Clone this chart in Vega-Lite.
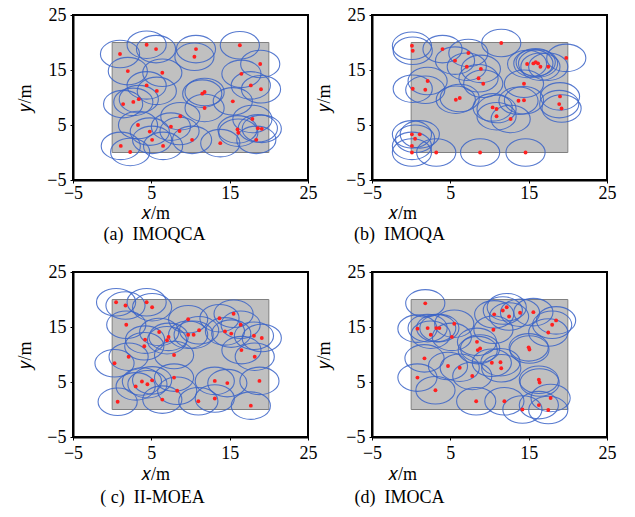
{
"$schema": "https://vega.github.io/schema/vega-lite/v6.json",
"padding": {"left": 15, "top": 5, "right": 0, "bottom": 0},
"background": "white",
"datasets": {
"area": [{"x": 0, "y": 0, "x2": 20, "y2": 20}],
"a": [{"x":1.0,"y":17.9},{"x":4.4,"y":19.6},{"x":5.6,"y":18.8},{"x":10.7,"y":18.8},{"x":10.5,"y":17.4},{"x":16.3,"y":19.5},{"x":18.9,"y":16.1},{"x":2.0,"y":14.8},{"x":6.4,"y":14.5},{"x":16.5,"y":14.3},{"x":4.4,"y":12.2},{"x":5.7,"y":11.2},{"x":17.7,"y":12.2},{"x":19.0,"y":11.5},{"x":11.5,"y":10.7},{"x":11.8,"y":11.0},{"x":2.7,"y":9.2},{"x":3.4,"y":9.7},{"x":1.4,"y":8.8},{"x":15.4,"y":9.3},{"x":11.8,"y":8.1},{"x":8.7,"y":6.6},{"x":3.3,"y":5.0},{"x":7.5,"y":4.7},{"x":4.8,"y":3.8},{"x":8.6,"y":3.9},{"x":17.9,"y":6.1},{"x":16.0,"y":4.2},{"x":16.1,"y":3.6},{"x":18.6,"y":4.4},{"x":19.1,"y":4.3},{"x":18.4,"y":2.3},{"x":5.1,"y":2.3},{"x":6.5,"y":1.2},{"x":10.2,"y":2.3},{"x":13.8,"y":1.7},{"x":1.1,"y":1.2},{"x":2.3,"y":0.1}],
"b": [{"x":0.1,"y":19.4},{"x":0.2,"y":18.5},{"x":4.0,"y":18.8},{"x":7.3,"y":18.1},{"x":11.5,"y":19.9},{"x":5.6,"y":16.7},{"x":7.1,"y":15.6},{"x":8.9,"y":15.2},{"x":14.8,"y":16.1},{"x":15.6,"y":16.2},{"x":15.9,"y":16.4},{"x":16.2,"y":16.2},{"x":16.5,"y":15.6},{"x":17.5,"y":15.6},{"x":19.8,"y":17.2},{"x":2.1,"y":13.0},{"x":0.2,"y":11.6},{"x":1.8,"y":11.4},{"x":8.6,"y":13.5},{"x":9.2,"y":12.5},{"x":14.4,"y":12.5},{"x":5.7,"y":9.6},{"x":6.2,"y":9.9},{"x":13.7,"y":9.4},{"x":14.4,"y":9.5},{"x":19.0,"y":10.2},{"x":18.9,"y":8.8},{"x":19.2,"y":8.0},{"x":10.4,"y":8.2},{"x":10.9,"y":7.9},{"x":10.9,"y":6.6},{"x":12.7,"y":6.1},{"x":0.1,"y":3.3},{"x":1.1,"y":3.3},{"x":0.5,"y":2.5},{"x":0.1,"y":1.2},{"x":0.1,"y":0.0},{"x":3.2,"y":0.0},{"x":8.8,"y":0.0},{"x":14.6,"y":0.0}],
"c": [{"x":0.5,"y":19.5},{"x":1.7,"y":18.9},{"x":4.4,"y":19.5},{"x":5.1,"y":18.6},{"x":1.8,"y":15.4},{"x":9.7,"y":16.4},{"x":13.7,"y":16.6},{"x":15.5,"y":17.4},{"x":16.4,"y":15.4},{"x":6.0,"y":14.1},{"x":7.2,"y":13.2},{"x":7.0,"y":12.6},{"x":4.2,"y":12.7},{"x":4.1,"y":11.5},{"x":9.7,"y":13.6},{"x":10.4,"y":13.6},{"x":11.1,"y":14.4},{"x":14.4,"y":14.2},{"x":15.2,"y":13.8},{"x":18.1,"y":13.4},{"x":19.1,"y":13.0},{"x":16.5,"y":10.8},{"x":18.2,"y":9.6},{"x":7.9,"y":9.9},{"x":2.1,"y":9.6},{"x":0.3,"y":8.4},{"x":7.9,"y":5.8},{"x":3.8,"y":5.1},{"x":4.5,"y":4.6},{"x":5.1,"y":5.3},{"x":3.0,"y":4.2},{"x":8.3,"y":3.4},{"x":13.1,"y":5.2},{"x":14.7,"y":4.8},{"x":18.8,"y":5.2},{"x":6.4,"y":1.8},{"x":11.0,"y":1.5},{"x":13.1,"y":2.0},{"x":0.7,"y":1.4},{"x":17.7,"y":0.7}],
"d": [{"x":1.8,"y":19.3},{"x":10.6,"y":17.3},{"x":11.7,"y":18.0},{"x":12.2,"y":18.6},{"x":12.5,"y":16.9},{"x":13.9,"y":17.6},{"x":15.6,"y":17.7},{"x":18.5,"y":16.2},{"x":18.0,"y":15.4},{"x":17.5,"y":14.0},{"x":0.8,"y":14.7},{"x":2.1,"y":14.8},{"x":3.2,"y":14.8},{"x":3.6,"y":14.8},{"x":2.5,"y":13.6},{"x":5.5,"y":15.6},{"x":5.2,"y":13.2},{"x":10.5,"y":14.5},{"x":8.4,"y":12.3},{"x":8.8,"y":11.1},{"x":8.5,"y":10.8},{"x":15.0,"y":11.3},{"x":15.1,"y":10.9},{"x":1.7,"y":9.3},{"x":4.7,"y":7.9},{"x":6.2,"y":7.6},{"x":10.3,"y":8.5},{"x":11.4,"y":8.6},{"x":11.5,"y":7.5},{"x":7.8,"y":6.1},{"x":0.8,"y":5.8},{"x":16.3,"y":5.4},{"x":16.4,"y":4.9},{"x":3.1,"y":3.5},{"x":8.3,"y":1.5},{"x":11.9,"y":1.5},{"x":17.8,"y":2.1},{"x":16.3,"y":0.8},{"x":14.2,"y":0.0},{"x":17.5,"y":-0.1}]
},
"columns": 2,
"spacing": {"row": 17, "column": -4},
"concat": [
{
"width": 235, "height": 165,
"view": {"stroke": "black", "strokeWidth": 2},
"title": {"text": "(a)\u00a0\u00a0IMOQCA", "dx": -36},
"data": {"name": "a"},
"encoding": {
"x": {"field": "x", "type": "quantitative", "scale": {"domain": [-5, 25], "nice": false, "zero": false}, "axis": {"values": [-5, 5, 15, 25], "titleX": 82, "labelPadding": 1, "titlePadding": 2}, "title": "𝑥/m"},
"y": {"field": "y", "type": "quantitative", "scale": {"domain": [-5, 25], "nice": false, "zero": false}, "axis": {"values": [-5, 5, 15, 25]}, "title": "𝑦/m"}
},
"layer": [
{"data": {"name": "area"}, "mark": {"type": "rect", "fill": "#c0c0c0", "stroke": "gray", "strokeWidth": 1}, "encoding": {"x2": {"field": "x2"}, "y2": {"field": "y2"}}},
{"mark": {"type": "point", "shape": "M -1 0 A 1 0.702 0 1 0 1 0 A 1 0.702 0 1 0 -1 0 Z", "size": 1534, "filled": false, "stroke": "#3b64c8", "strokeWidth": 1.1, "opacity": 0.85}},
{"mark": {"type": "circle", "color": "#ff2020", "size": 15, "opacity": 1}}
]
},
{
"width": 235, "height": 165,
"view": {"stroke": "black", "strokeWidth": 2},
"title": {"text": "(b)\u00a0\u00a0IMOQA", "dx": -90},
"data": {"name": "b"},
"encoding": {
"x": {"field": "x", "type": "quantitative", "scale": {"domain": [-5, 25], "nice": false, "zero": false}, "axis": {"values": [-5, 5, 15, 25], "titleX": 30, "labelPadding": 1, "titlePadding": 2}, "title": "𝑥/m"},
"y": {"field": "y", "type": "quantitative", "scale": {"domain": [-5, 25], "nice": false, "zero": false}, "axis": {"values": [-5, 5, 15, 25]}, "title": "𝑦/m"}
},
"layer": [
{"data": {"name": "area"}, "mark": {"type": "rect", "fill": "#c0c0c0", "stroke": "gray", "strokeWidth": 1}, "encoding": {"x2": {"field": "x2"}, "y2": {"field": "y2"}}},
{"mark": {"type": "point", "shape": "M -1 0 A 1 0.702 0 1 0 1 0 A 1 0.702 0 1 0 -1 0 Z", "size": 1534, "filled": false, "stroke": "#3b64c8", "strokeWidth": 1.1, "opacity": 0.85}},
{"mark": {"type": "circle", "color": "#ff2020", "size": 15, "opacity": 1}}
]
},
{
"width": 235, "height": 165,
"view": {"stroke": "black", "strokeWidth": 2},
"title": {"text": "(\u00a0c)\u00a0\u00a0II-MOEA", "dx": -38, "offset": 6},
"data": {"name": "c"},
"encoding": {
"x": {"field": "x", "type": "quantitative", "scale": {"domain": [-5, 25], "nice": false, "zero": false}, "axis": {"values": [-5, 5, 15, 25], "titleX": 82, "labelPadding": 4, "titlePadding": 3}, "title": "𝑥/m"},
"y": {"field": "y", "type": "quantitative", "scale": {"domain": [-5, 25], "nice": false, "zero": false}, "axis": {"values": [-5, 5, 15, 25]}, "title": "𝑦/m"}
},
"layer": [
{"data": {"name": "area"}, "mark": {"type": "rect", "fill": "#c0c0c0", "stroke": "gray", "strokeWidth": 1}, "encoding": {"x2": {"field": "x2"}, "y2": {"field": "y2"}}},
{"mark": {"type": "point", "shape": "M -1 0 A 1 0.702 0 1 0 1 0 A 1 0.702 0 1 0 -1 0 Z", "size": 1534, "filled": false, "stroke": "#3b64c8", "strokeWidth": 1.1, "opacity": 0.85}},
{"mark": {"type": "circle", "color": "#ff2020", "size": 15, "opacity": 1}}
]
},
{
"width": 235, "height": 165,
"view": {"stroke": "black", "strokeWidth": 2},
"title": {"text": "(d)\u00a0\u00a0IMOCA", "dx": -90, "offset": 6},
"data": {"name": "d"},
"encoding": {
"x": {"field": "x", "type": "quantitative", "scale": {"domain": [-5, 25], "nice": false, "zero": false}, "axis": {"values": [-5, 5, 15, 25], "titleX": 30, "labelPadding": 4, "titlePadding": 3}, "title": "𝑥/m"},
"y": {"field": "y", "type": "quantitative", "scale": {"domain": [-5, 25], "nice": false, "zero": false}, "axis": {"values": [-5, 5, 15, 25]}, "title": "𝑦/m"}
},
"layer": [
{"data": {"name": "area"}, "mark": {"type": "rect", "fill": "#c0c0c0", "stroke": "gray", "strokeWidth": 1}, "encoding": {"x2": {"field": "x2"}, "y2": {"field": "y2"}}},
{"mark": {"type": "point", "shape": "M -1 0 A 1 0.702 0 1 0 1 0 A 1 0.702 0 1 0 -1 0 Z", "size": 1534, "filled": false, "stroke": "#3b64c8", "strokeWidth": 1.1, "opacity": 0.85}},
{"mark": {"type": "circle", "color": "#ff2020", "size": 15, "opacity": 1}}
]
}
],
"config": {
"axis": {"domain": true, "domainColor": "black", "domainWidth": 2, "grid": false, "ticks": true, "tickSize": 3, "tickColor": "black", "tickWidth": 1, "labelFlush": false, "labelOverlap": false, "labelFont": "Liberation Serif", "labelFontSize": 18, "labelColor": "black", "titleFont": "Liberation Serif", "titleFontSize": 18, "titleFontWeight": "normal", "titleColor": "black"},
"axisX": {"labelPadding": 1, "titlePadding": 2, "labelAngle": 0},
"axisY": {"labelPadding": 4, "titlePadding": 12},
"title": {"orient": "bottom", "anchor": "middle", "offset": 4, "font": "Liberation Serif", "fontSize": 18, "fontWeight": "normal", "color": "black"}
}
}
